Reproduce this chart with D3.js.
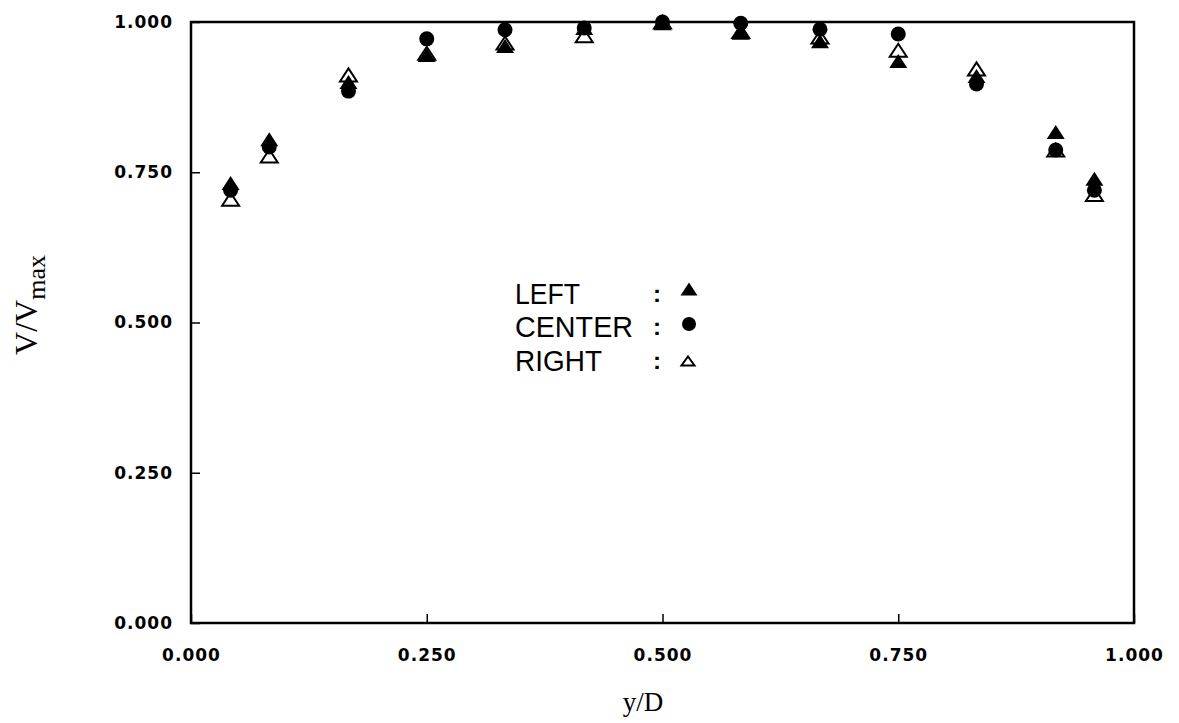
<!DOCTYPE html>
<html>
<head>
<meta charset="utf-8">
<script src="https://cdn.jsdelivr.net/npm/d3@7"></script>
<style>
  body { margin: 0; background: #fff; }
</style>
</head>
<body>
<svg></svg>
<script>
const svg = d3.select('svg')
    .attr('width', 1179)
    .attr('height', 723);

// measuring positions y/D
const positions = [0.042, 0.083, 0.167, 0.25, 0.333, 0.417, 0.5, 0.583, 0.667, 0.75, 0.833, 0.917, 0.958];
// V/Vmax for the three traverses
const leftVals   = [0.732, 0.805, 0.900, 0.945, 0.960, 0.990, 0.998, 0.982, 0.968, 0.935, 0.910, 0.817, 0.739];
const centerVals = [0.720, 0.792, 0.885, 0.972, 0.987, 0.990, 1.000, 0.998, 0.988, 0.980, 0.897, 0.787, 0.720];
const rightVals  = [0.705, 0.777, 0.912, 0.948, 0.965, 0.977, 1.000, 0.984, 0.975, 0.953, 0.922, 0.787, 0.713];
const ticks = [0, 0.25, 0.5, 0.75, 1];
const legendNames = ['LEFT', 'CENTER', 'RIGHT'];

// plot frame
const plotL = 191, plotR = 1134, plotT = 22, plotB = 623;

const x = d3.scaleLinear().domain([0, 1]).range([plotL, plotR]);
const y = d3.scaleLinear().domain([0, 1]).range([plotB, plotT]);

const fmt = d3.format('.3f');
const tickFont = '"DejaVu Sans", sans-serif';

// triangle centred on its box
function tri(w, h) {
    return `M0,${-h / 2}L${w / 2},${h / 2}L${-w / 2},${h / 2}Z`;
}

// x axis, ticks pointing in
const xAxis = svg.append('g')
    .attr('transform', `translate(0,${plotB})`)
    .call(d3.axisBottom(x).tickValues(ticks).tickSizeInner(-9).tickSizeOuter(0).tickFormat(fmt).tickPadding(26));
xAxis.select('.domain').remove();
xAxis.selectAll('line').attr('stroke', '#000').attr('stroke-width', 1.5);
xAxis.selectAll('text')
    .attr('font-family', tickFont).attr('font-size', 17).attr('font-weight', 'bold')
    .attr('letter-spacing', 1).attr('fill', '#000');

// y axis
const yAxis = svg.append('g')
    .attr('transform', `translate(${plotL},0)`)
    .call(d3.axisLeft(y).tickValues(ticks).tickSizeInner(-9).tickSizeOuter(0).tickFormat(fmt).tickPadding(18));
yAxis.select('.domain').remove();
yAxis.selectAll('line').attr('stroke', '#000').attr('stroke-width', 1.5);
yAxis.selectAll('text')
    .attr('font-family', tickFont).attr('font-size', 17).attr('font-weight', 'bold')
    .attr('letter-spacing', 1).attr('fill', '#000');

// frame
svg.append('rect')
    .attr('x', plotL).attr('y', plotT)
    .attr('width', plotR - plotL).attr('height', plotB - plotT)
    .attr('fill', 'none').attr('stroke', '#000').attr('stroke-width', 2.5);

// points: open triangles first, filled marks over them
const marks = svg.append('g');
marks.selectAll('.right').data(positions).join('path')
    .attr('class', 'right')
    .attr('d', tri(17, 13))
    .attr('transform', (d, i) => `translate(${x(d)},${y(rightVals[i])})`)
    .attr('fill', 'none').attr('stroke', '#000').attr('stroke-width', 2);
marks.selectAll('.center').data(positions).join('circle')
    .attr('class', 'center')
    .attr('cx', d => x(d))
    .attr('cy', (d, i) => y(centerVals[i]))
    .attr('r', 7.5)
    .attr('fill', '#000');
marks.selectAll('.left').data(positions).join('path')
    .attr('class', 'left')
    .attr('d', tri(18, 14))
    .attr('transform', (d, i) => `translate(${x(d)},${y(leftVals[i])})`)
    .attr('fill', '#000');

// legend
const legend = svg.append('g').attr('transform', 'translate(515,0)');
const legendWidths = [65, 118, 87];
const legendBase = [304, 337, 371];
legendNames.forEach((name, i) => {
    legend.append('text')
        .attr('x', 0).attr('y', legendBase[i])
        .attr('font-family', '"Liberation Sans", Arial, sans-serif')
        .attr('font-size', 29)
        .attr('textLength', legendWidths[i])
        .attr('lengthAdjust', 'spacingAndGlyphs')
        .text(name);
    legend.append('text')
        .attr('x', 138).attr('y', legendBase[i] - 2)
        .attr('font-family', '"Liberation Sans", Arial, sans-serif')
        .attr('font-size', 24)
        .attr('font-weight', 'bold')
        .text(':');
});
legend.append('path').attr('d', tri(17, 13)).attr('transform', 'translate(174,289)').attr('fill', '#000');
legend.append('circle').attr('cx', 174).attr('cy', 324).attr('r', 7).attr('fill', '#000');
legend.append('path').attr('d', tri(13, 9)).attr('transform', 'translate(173,361)')
    .attr('fill', 'none').attr('stroke', '#000').attr('stroke-width', 2);

// axis titles
svg.append('text')
    .attr('x', 643).attr('y', 711)
    .attr('text-anchor', 'middle')
    .attr('font-family', '"Liberation Serif", "Times New Roman", serif')
    .attr('font-size', 27)
    .text('y/D');

const yTitle = svg.append('text')
    .attr('transform', 'translate(37,305) rotate(-90)')
    .attr('text-anchor', 'middle')
    .attr('font-family', '"Liberation Serif", "Times New Roman", serif')
    .attr('font-size', 32);
yTitle.append('tspan').text('V/V');
yTitle.append('tspan').attr('font-size', 26).attr('dy', 8).text('max');
</script>
</body>
</html>
